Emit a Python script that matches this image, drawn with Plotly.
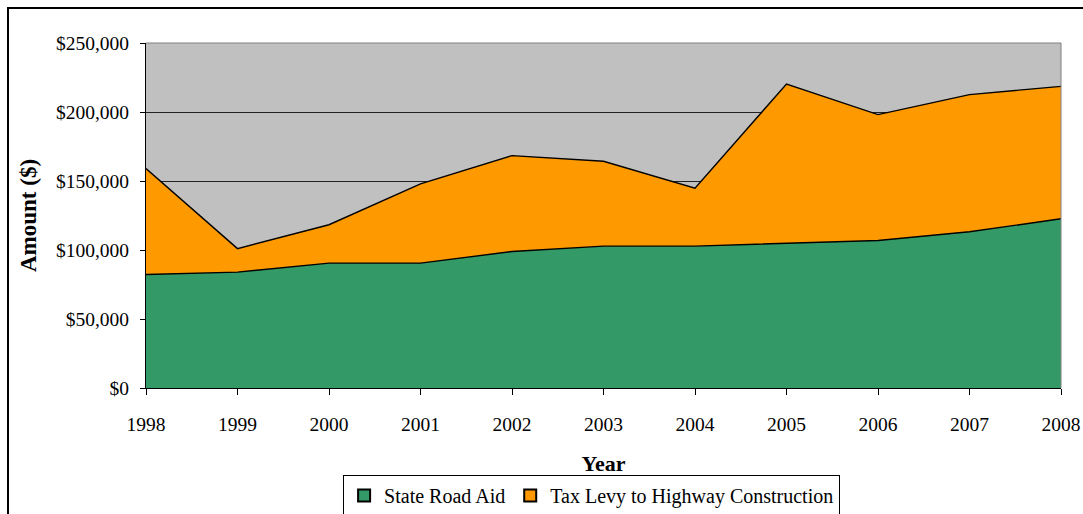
import plotly.graph_objects as go

years = [1998, 1999, 2000, 2001, 2002, 2003, 2004, 2005, 2006, 2007, 2008]
state_road_aid = [82300, 84000, 90500, 90500, 98900, 102800, 102800, 104900, 106900, 113200, 122600]
tax_levy = [76700, 17000, 27800, 57400, 69500, 61500, 42000, 115400, 91200, 99400, 96000]
y_ticks = [0, 50000, 100000, 150000, 200000, 250000]
y_tick_labels = ["$0", "$50,000", "$100,000", "$150,000", "$200,000", "$250,000"]
series_names = ["State Road Aid", "Tax Levy to Highway Construction"]
series_colors = ["#339966", "#FF9900"]

FONT = "Liberation Serif"
W, H = 1083, 514
L, R, T, B = 146, 22, 43, 126
pw, ph = W - L - R, H - T - B

def px_x(p):
    return (p - L) / pw

def px_y(p):
    return (H - B - p) / ph

fig = go.Figure()
for vals, name, col in zip([state_road_aid, tax_levy], series_names, series_colors):
    fig.add_trace(go.Scatter(
        x=years, y=vals, name=name, stackgroup="one", showlegend=False,
        mode="lines", line=dict(color="black", width=1.4), fillcolor=col,
        hoverinfo="skip",
    ))
for name, col in zip(series_names, series_colors):
    fig.add_trace(go.Scatter(
        x=[None], y=[None], name=name, mode="markers", showlegend=True,
        marker=dict(symbol="square", size=13, color=col, line=dict(color="black", width=1)),
    ))

fig.update_layout(
    width=W, height=H,
    margin=dict(l=L, r=R, t=T, b=B, pad=0, autoexpand=False),
    paper_bgcolor="white",
    plot_bgcolor="#C0C0C0",
    font=dict(family=FONT, size=19.5, color="black"),
    showlegend=True,
    legend=dict(
        orientation="h", x=0.487, xanchor="center", y=px_y(475), yanchor="top",
        bordercolor="black", borderwidth=1, bgcolor="white", traceorder="normal",
        font=dict(family=FONT, size=20), itemsizing="constant",
        tracegroupgap=0, itemwidth=30,
    ),
    xaxis=dict(
        range=[1998, 2008], tickvals=years, ticktext=[str(y) for y in years],
        showgrid=False, zeroline=False, showline=True, linecolor="black", linewidth=1,
        ticks="outside", ticklen=6, tickcolor="black", automargin=False,
        ticklabelstandoff=13,
        title=dict(text="<b>Year</b>", font=dict(family=FONT, size=22), standoff=21),
    ),
    yaxis=dict(
        range=[0, 250000], tickvals=y_ticks, ticktext=y_tick_labels,
        showgrid=True, gridcolor="#222222", gridwidth=1, zeroline=False,
        showline=True, linecolor="black", linewidth=1, automargin=False,
        ticks="outside", ticklen=5, tickcolor="black", ticklabelstandoff=7,
        title=dict(text="<b>Amount ($)</b>", font=dict(family=FONT, size=23), standoff=12),
    ),
    shapes=[
        dict(type="rect", xref="paper", yref="paper",
             x0=px_x(8), x1=px_x(1110), y0=px_y(560), y1=px_y(8),
             line=dict(color="black", width=2), fillcolor="rgba(0,0,0,0)", layer="below"),
        dict(type="line", xref="paper", yref="paper", x0=0, x1=1, y0=1, y1=1,
             line=dict(color="#808080", width=1)),
        dict(type="line", xref="paper", yref="paper", x0=1, x1=1, y0=0, y1=1,
             line=dict(color="#808080", width=1)),
    ],
)

fig.write_html(
    "out.html",
    config={"displayModeBar": False},
    post_script="document.body.style.margin='0px';document.body.style.overflow='hidden';",
)
